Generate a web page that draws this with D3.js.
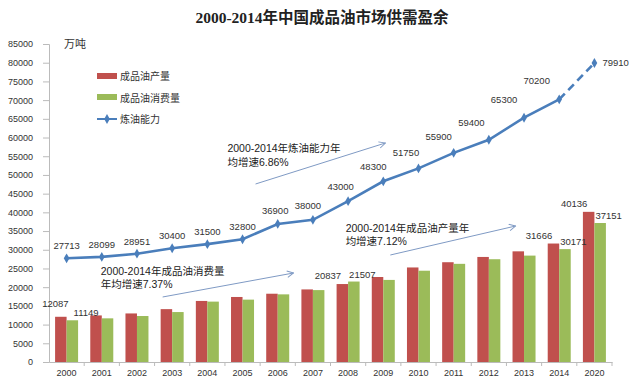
<!DOCTYPE html>
<html><head><meta charset="utf-8">
<script src="https://cdn.jsdelivr.net/npm/d3@7/dist/d3.min.js"></script>
<style>body{margin:0;background:#fff;} svg{display:block;}</style>
</head><body><svg id="c" width="640" height="388"></svg>
<script>
const years = ["2000","2001","2002","2003","2004","2005","2006","2007","2008","2009","2010","2011","2012","2013","2014","2020"];
const production = [12087,12450,12980,14130,16320,17380,18250,19400,20837,22720,25270,26670,28080,29580,31666,40136];
const consumption = [11149,11670,12290,13350,16140,16670,18080,19220,21507,21940,24400,26240,27470,28440,30171,37151];
const capacity = [27713,28099,28951,30400,31500,32800,36900,38000,43000,48300,51750,55900,59400,65300,70200,79910];
const labeledBars = ["2000","2008","2014","2020"];
const yTicks = d3.range(0, 85001, 5000);
const title = "2000-2014年中国成品油市场供需盈余";
const unit = "万吨";
const legendNames = ["成品油产量","成品油消费量","炼油能力"];
// annotation anchors in (category index, value) units
const notes = [
  {lines:["2000-2014年炼油能力年","均增速6.86%"], from:[5.37,47580], to:[9.06,58540], at:[4.57,56100]},
  {lines:["2000-2014年成品油消费量","年均增速7.37%"], from:[2.73,17375], to:[6.45,23790], at:[0.97,23300]},
  {lines:["2000-2014年成品油产量年","均增速7.12%"], from:[9.2,28600], to:[12.76,36350], at:[7.93,34750]}
];

const W=640,H=388;
const margin={left:49,right:28,top:44,bottom:26};
const svg=d3.select("#c");
const font="'Liberation Sans','Noto Sans CJK SC',sans-serif";
const x=d3.scaleBand().domain(years).range([margin.left,W-margin.right]);
const y=d3.scaleLinear().domain([0,85000]).range([H-margin.bottom,margin.top]);
const bw=11.5;
const cx=d=>x(d)+x.bandwidth()/2;
const xi=d3.scaleLinear().domain([0,years.length-1]).range([cx(years[0]),cx(years[years.length-1])]);

// title
svg.append("text").attr("x",322).attr("y",23).attr("text-anchor","middle")
  .attr("font-family","'Liberation Serif','DejaVu Serif','Noto Sans CJK SC',serif")
  .attr("font-size",15.5).attr("font-weight","bold").attr("fill","#222").text(title);

// y axis
const ya=svg.append("g").attr("transform",`translate(${margin.left},0)`)
  .call(d3.axisLeft(y).tickValues(yTicks).tickSize(6).tickPadding(10).tickFormat(d3.format("d")));
ya.select(".domain").attr("stroke","#bbb");
ya.selectAll(".tick line").attr("stroke","#bbb");
ya.selectAll("text").attr("font-family",font).attr("font-size",9).attr("fill","#333");

// x axis
const xa=svg.append("g").attr("transform",`translate(0,${y(0)})`)
  .call(d3.axisBottom(x).tickSize(0).tickPadding(8));
xa.select(".domain").attr("stroke","#bbb");
xa.selectAll("text").attr("font-family",font).attr("font-size",9).attr("fill","#333");
svg.append("g").selectAll("line").data(years.slice(1).concat(["end"])).join("line")
  .attr("x1",d=>d==="end"?W-margin.right:x(d)).attr("x2",d=>d==="end"?W-margin.right:x(d))
  .attr("y1",y(0)).attr("y2",y(0)+4).attr("stroke","#bbb");

svg.append("text").attr("x",64).attr("y",48).attr("font-family",font).attr("font-size",11).attr("fill","#333").text(unit);

// bars
svg.append("g").selectAll("rect").data(years).join("rect")
  .attr("x",d=>cx(d)-bw).attr("width",bw)
  .attr("y",(d,i)=>y(production[i])).attr("height",(d,i)=>y(0)-y(production[i]))
  .attr("fill","#C0504D");
svg.append("g").selectAll("rect").data(years).join("rect")
  .attr("x",d=>cx(d)).attr("width",bw)
  .attr("y",(d,i)=>y(consumption[i])).attr("height",(d,i)=>y(0)-y(consumption[i]))
  .attr("fill","#9BBB59");

// bar labels
const lbl=svg.append("g").attr("font-family",font).attr("font-size",9.5).attr("fill","#333");
years.forEach((d,i)=>{
  if(!labeledBars.includes(d)) return;
  const first=i===0;
  lbl.append("text").attr("x",first?cx(d)+2:cx(d)-7).attr("y",y(production[i])-(first?10:5)).attr("text-anchor","end").text(production[i]);
  lbl.append("text").attr("x",first?cx(d)+7:cx(d)+1).attr("y",y(consumption[i])-4).attr("text-anchor","start").text(consumption[i]);
});

// capacity line
const blue="#4A7EBB";
const line=d3.line().x((d,i)=>cx(years[i])).y(d=>y(d));
const solidPts=capacity.slice(0,15);
svg.append("path").datum(solidPts).attr("d",line).attr("fill","none").attr("stroke",blue).attr("stroke-width",2.6);
svg.append("path").datum([capacity[14],capacity[15]])
  .attr("d",d3.line().x((d,i)=>cx(years[14+i])).y(d=>y(d))).attr("fill","none").attr("stroke",blue)
  .attr("stroke-width",2.6).attr("stroke-dasharray","8,5");
const diamond=d3.symbol().type(d3.symbolDiamond).size(28);
svg.append("g").selectAll("path").data(capacity).join("path")
  .attr("d",diamond).attr("transform",(d,i)=>`translate(${cx(years[i])},${y(d)})`).attr("fill",blue);
svg.append("g").attr("font-family",font).attr("font-size",9.5).attr("fill","#333")
  .selectAll("text").data(capacity).join("text")
  .attr("x",(d,i)=>i===15?cx(years[i])+8:cx(years[i])-Math.max(0,i-5)*2.5)
  .attr("y",(d,i)=>i===15?y(d)+3:y(d)-9-Math.max(0,i-5)*0.7)
  .attr("text-anchor",(d,i)=>i===15?"start":"middle").text(d=>d);

// legend
const lg=svg.append("g").attr("font-family",font).attr("font-size",10).attr("fill","#333");
lg.append("rect").attr("x",97).attr("y",73).attr("width",20).attr("height",6).attr("fill","#C0504D");
lg.append("rect").attr("x",97).attr("y",94).attr("width",20).attr("height",6).attr("fill","#9BBB59");
lg.append("line").attr("x1",97).attr("x2",117).attr("y1",119).attr("y2",119).attr("stroke",blue).attr("stroke-width",2);
lg.append("path").attr("d",diamond).attr("transform","translate(107,119)").attr("fill",blue);
legendNames.forEach((n,i)=>lg.append("text").attr("x",120).attr("y",80+i*21.5).text(n));

// annotations
svg.append("defs").append("marker").attr("id","ah").attr("viewBox","0 0 10 10").attr("refX",9).attr("refY",5)
  .attr("markerWidth",8).attr("markerHeight",8).attr("orient","auto").attr("markerUnits","userSpaceOnUse")
  .append("path").attr("d","M1,1 L9,5 L1,9").attr("fill","none").attr("stroke","#7F9AC4").attr("stroke-width",1.2);
const an=svg.append("g");
notes.forEach(n=>{
  an.append("line").attr("x1",xi(n.from[0])).attr("y1",y(n.from[1])).attr("x2",xi(n.to[0])).attr("y2",y(n.to[1]))
    .attr("stroke","#7F9AC4").attr("stroke-width",1).attr("marker-end","url(#ah)");
  const t=an.append("text").attr("font-family",font).attr("font-size",10.5).attr("fill","#222");
  n.lines.forEach((l,k)=>t.append("tspan").attr("x",xi(n.at[0])).attr("y",y(n.at[1])+k*13.5).text(l));
});
</script></body></html>
